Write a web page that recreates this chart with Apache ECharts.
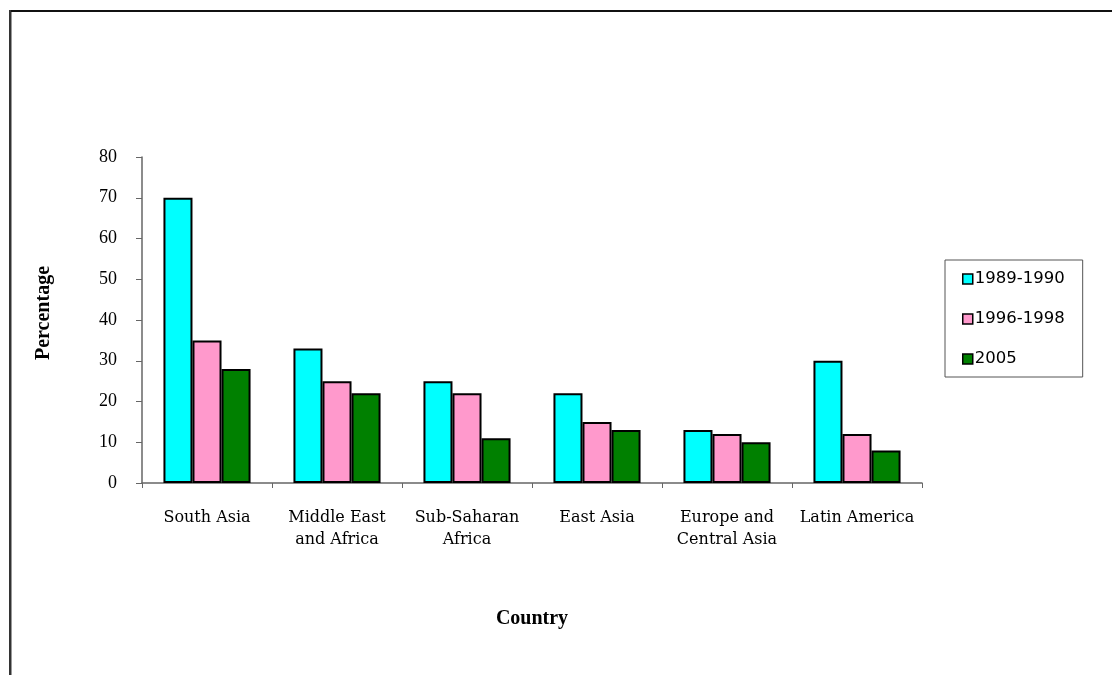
<!DOCTYPE html>
<html>
<head>
<meta charset="utf-8">
<title>Percentage by region</title>
<script src="https://cdn.jsdelivr.net/npm/echarts@6/dist/echarts.min.js"></script>
<style>
  html, body { margin: 0; padding: 0; background: #fff; }
  #chart { width: 1112px; height: 675px; }
</style>
</head>
<body>
<div id="chart"></div>
<script>
// Regions on the category axis
const regions = ['South Asia', 'Middle East\nand Africa', 'Sub-Saharan\nAfrica', 'East Asia', 'Europe and\nCentral Asia', 'Latin America'];

// Series names and values (percent)
const seriesNames = ['1989-1990', '1996-1998', '2005'];
const values1989 = [70, 33, 25, 22, 13, 30];
const values1996 = [35, 25, 22, 15, 12, 12];
const values2005 = [28, 22, 11, 13, 10, 8];

// Value axis ticks
const yMin = 0;
const yMax = 80;
const yStep = 10;

const colors = ['#00ffff', '#ff99cc', '#008000'];
const serif = '"Liberation Serif", "Times New Roman", serif';
const slab = '"DejaVu Serif", serif';

const chart = echarts.init(document.getElementById('chart'), null, { renderer: 'canvas' });

function barSeries(name, data, color) {
  return {
    name: name,
    type: 'bar',
    data: data,
    barGap: '0%',
    barCategoryGap: '33%',
    itemStyle: { color: color, borderColor: '#000', borderWidth: 2 },
    emphasis: { disabled: true }
  };
}

chart.setOption({
  animation: false,
  backgroundColor: '#ffffff',
  grid: { left: 142, right: 190, top: 157, bottom: 192 },
  legend: {
    orient: 'vertical',
    left: 945,
    top: 260,
    padding: [10, 18, 9, 17],
    itemWidth: 10,
    itemHeight: 10,
    itemGap: 22,
    borderColor: '#555',
    borderWidth: 1,
    icon: 'rect',
    data: seriesNames.map((n, i) => ({
      name: n,
      itemStyle: { color: colors[i], borderColor: '#000', borderWidth: 1.5 }
    })),
    textStyle: { fontFamily: '"DejaVu Sans", sans-serif', fontSize: 16.5, lineHeight: 18, color: '#000', padding: [0, 0, 0, -3] }
  },
  xAxis: {
    type: 'category',
    data: regions,
    name: 'Country',
    nameLocation: 'middle',
    nameGap: 126,
    nameTextStyle: { fontFamily: serif, fontSize: 20, fontWeight: 'bold', color: '#000' },
    axisLine: { lineStyle: { color: '#666', width: 1.5 } },
    axisTick: { show: true, length: 5, alignWithLabel: false, lineStyle: { color: '#666' } },
    axisLabel: {
      interval: 0,
      margin: 24,
      fontFamily: slab,
      fontSize: 16,
      lineHeight: 22,
      color: '#000'
    }
  },
  yAxis: {
    type: 'value',
    min: yMin,
    max: yMax,
    interval: yStep,
    name: 'Percentage',
    nameLocation: 'middle',
    nameGap: 88,
    nameTextStyle: { fontFamily: serif, fontSize: 20, fontWeight: 'bold', color: '#000', padding: [0, 0, 0, 14] },
    splitLine: { show: false },
    axisLine: { show: true, lineStyle: { color: '#666', width: 1.5 } },
    axisTick: { show: true, length: 6, lineStyle: { color: '#666' } },
    axisLabel: { margin: 25, fontFamily: serif, fontSize: 18, color: '#000' }
  },
  series: [
    barSeries(seriesNames[0], values1989, colors[0]),
    barSeries(seriesNames[1], values1996, colors[1]),
    barSeries(seriesNames[2], values2005, colors[2])
  ],
  graphic: [
    // page frame: top rule and double left rule
    { type: 'rect', shape: { x: 9, y: 10, width: 1103, height: 2 }, style: { fill: '#111' }, silent: true },
    { type: 'rect', shape: { x: 9, y: 10, width: 2, height: 665 }, style: { fill: '#333' }, silent: true },
    { type: 'rect', shape: { x: 11, y: 12, width: 1, height: 663 }, style: { fill: '#999' }, silent: true }
  ]
});
</script>
</body>
</html>
